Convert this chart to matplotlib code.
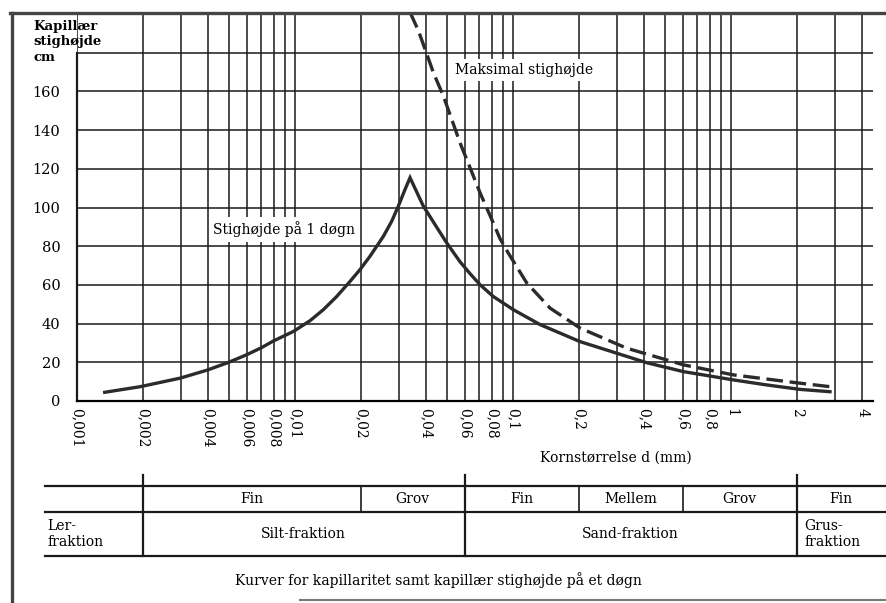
"""Kapillær stighøjde mod kornstørrelse, med fraktionstabel under aksen."""

import matplotlib
matplotlib.use("Agg")
import matplotlib.pyplot as plt
import matplotlib.transforms as mtransforms
from matplotlib.lines import Line2D
from matplotlib.ticker import FixedLocator, LogLocator, NullFormatter

plt.rcParams["font.family"] = ["DejaVu Serif", "DejaVu Sans"]

# Stighøjde på 1 døgn (kornstørrelse mm, cm)
d_day = [0.00134, 0.00195, 0.00297, 0.00394, 0.00494, 0.0060, 0.00703,
         0.00795, 0.00982, 0.01172, 0.01349, 0.01553, 0.01788, 0.01987,
         0.02208, 0.02543, 0.02777, 0.02978, 0.03196, 0.0337,
         0.03879, 0.04467, 0.04965, 0.0571, 0.06353, 0.07058, 0.0812,
         0.1003, 0.133, 0.2029, 0.299, 0.410, 0.604, 1.025, 1.458, 2.073, 2.845]
h_day = [4.5, 7.4, 11.8, 15.9, 19.9, 23.9, 27.6,
         31.0, 35.9, 41.5, 47.2, 54, 61.8, 67.9,
         74.8, 85.1, 92.9, 100.7, 109.3, 115.4,
         100.7, 89.8, 81.7, 72.0, 65.8, 60.1, 54,
         47.2, 39.5, 30.7, 24.7, 19.8, 15.2, 10.9, 8.3, 6.0, 4.8]

# Maksimal stighøjde
d_max = [0.0337, 0.0368, 0.03948, 0.04309, 0.04788, 0.05233, 0.0571,
         0.0635, 0.0706, 0.0799, 0.0871, 0.0951, 0.1156, 0.1479, 0.2029,
         0.332, 0.604, 1.025, 2.073, 2.845]
h_max = [200.9, 191.4, 181.9, 169.8, 157.7, 145.6, 133.5,
         120.6, 107.6, 93.8, 84, 76.5, 61, 48, 37.7,
         27.3, 18.7, 13.5, 9.2, 7.4]

x_ticks = [0.001, 0.002, 0.004, 0.006, 0.008, 0.01, 0.02, 0.04, 0.06, 0.08,
           0.1, 0.2, 0.4, 0.6, 0.8, 1, 2, 4]
x_labels = ["0,001", "0,002", "0,004", "0,006", "0,008", "0,01", "0,02",
            "0,04", "0,06", "0,08", "0,1", "0,2", "0,4", "0,6", "0,8",
            "1", "2", "4"]
y_ticks = [0, 20, 40, 60, 80, 100, 120, 140, 160, 180]

# Fraktionstabel
class_edges = [0.002, 0.02, 0.06, 0.2, 0.6, 2, 5.1]
sub_labels = ["Fin", "Grov", "Fin", "Mellem", "Grov", "Fin"]
main_spans = [(0.002, 0.06, "Silt-fraktion"), (0.06, 2, "Sand-fraktion")]

W, H = 886, 603
fig = plt.figure(figsize=(W / 100, H / 100), dpi=100)
ax = fig.add_axes([77 / W, 1 - 401 / H, (873 - 77) / W, (401 - 14) / H])
ax.set_xscale("log")
ax.set_xlim(0.001, 4.48)
ax.set_ylim(0, 200)

ink = "#1a1a1a"
ax.xaxis.set_major_locator(FixedLocator(x_ticks))
ax.set_xticklabels(x_labels, rotation=270, va="top", ha="center", fontsize=10)
ax.xaxis.set_minor_locator(LogLocator(base=10, subs=range(1, 10), numticks=20))
ax.xaxis.set_minor_formatter(NullFormatter())
ax.set_yticks(y_ticks)
ax.set_yticklabels([str(v) for v in y_ticks[:-1]] + [""], fontsize=10.5)
ax.tick_params(which="both", length=0)
ax.tick_params(axis="x", pad=5)
ax.tick_params(axis="y", pad=12)
ax.grid(which="both", axis="x", color=ink, lw=1.1)
ax.grid(which="major", axis="y", color=ink, lw=1.1)
for s in ["top", "right", "left"]:
    ax.spines[s].set_visible(False)
ax.spines["bottom"].set_linewidth(1.6)
ax.axvline(0.001, ymax=180 / 200, color=ink, lw=1.6, clip_on=False)

ax.plot(d_day, h_day, color="#2b2b2b", lw=2.4, solid_joinstyle="miter", zorder=3)
ax.plot(d_max, h_max, color="#2b2b2b", lw=2.4, dashes=(5, 2), zorder=3)

box = dict(facecolor="white", edgecolor="none", pad=3)
ax.text(0.0541, 171, "Maksimal stighøjde", fontsize=10, va="center",
        ha="left", bbox=box, zorder=4)
ax.text(0.0042, 88.6, "Stighøjde på 1 døgn", fontsize=10, va="center",
        ha="left", bbox=box, zorder=4)

fig.text(33 / W, 1 - 20 / H, "Kapillær\nstighøjde\ncm", fontsize=9.5,
         fontweight="bold", va="top", ha="left", linespacing=1.25)
fig.text(616 / W, 1 - 458 / H, "Kornstørrelse d (mm)", fontsize=10,
         ha="center", va="center")

# Tabel: x i dataenheder, y i figurbrøk
trans = mtransforms.blended_transform_factory(ax.transData, fig.transFigure)
fy = lambda py: 1 - py / H
for py in (486, 512, 556):
    fig.add_artist(Line2D([45 / W, 1], [fy(py), fy(py)], transform=fig.transFigure,
                          color=ink, lw=1.6))
for d in (class_edges[0], class_edges[2], class_edges[5]):
    fig.add_artist(Line2D([d, d], [fy(475), fy(556)], transform=trans,
                          color=ink, lw=1.6))
for d in (class_edges[1], class_edges[3], class_edges[4]):
    fig.add_artist(Line2D([d, d], [fy(486), fy(512)], transform=trans,
                          color=ink, lw=1.2))
for i, lab in enumerate(sub_labels):
    xc = (class_edges[i] * class_edges[i + 1]) ** 0.5
    fig.text(xc, fy(499), lab, transform=trans, fontsize=10, ha="center",
             va="center")
for lo, hi, lab in main_spans:
    fig.text((lo * hi) ** 0.5, fy(534), lab, transform=trans, fontsize=10,
             ha="center", va="center")
fig.text(47 / W, fy(534), "Ler-\nfraktion", fontsize=10, ha="left",
         va="center", linespacing=1.15)
fig.text(804 / W, fy(534), "Grus-\nfraktion", fontsize=10, ha="left",
         va="center", linespacing=1.15)

fig.text(438 / W, fy(580), "Kurver for kapillaritet samt kapillær stighøjde på et døgn",
         fontsize=10, ha="center", va="center")

# Ramme
fig.add_artist(Line2D([12 / W, 12 / W], [0, fy(13)], transform=fig.transFigure,
                      color="#444444", lw=2.4))
fig.add_artist(Line2D([10 / W, 1], [fy(13), fy(13)], transform=fig.transFigure,
                      color="#444444", lw=2.4))
fig.add_artist(Line2D([300 / W, 1], [fy(600), fy(600)], transform=fig.transFigure,
                      color="#777777", lw=1.5))

fig.savefig("out.png", dpi=100)
